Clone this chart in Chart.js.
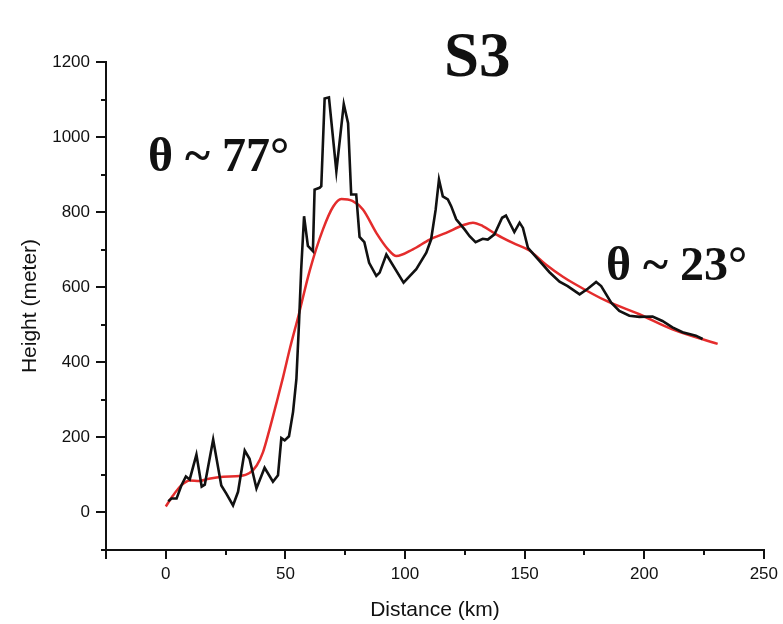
<!DOCTYPE html>
<html>
<head>
    <title>S3 profile</title>
    <script src="https://cdn.jsdelivr.net/npm/chart.js"></script>
    <style>
        body { margin: 0; background: #fff; }
    </style>
</head>
<body>
    <canvas id="profileChart" width="783" height="624"></canvas>

    <script>
        // measured profile (black)
        const profileDist = [1, 2.4, 4.5, 6.5, 8.4, 10, 12.8, 15, 16.3, 19.8, 23.2, 25.3, 28.1, 30.2, 33, 35, 37.9, 41.3, 44.8, 46.9,
            48.3, 49.7, 51.5, 53.2, 54.6, 55.7, 56.6, 57.8, 59.4, 61.5, 62.2, 64.3, 65, 66.4, 68.2, 71.3, 74.4, 76.2, 77.5, 79.6,
            81, 83, 85, 88, 89.4, 92.2, 99.4, 104.7, 108.9, 110.9, 112.8, 114.2, 115.8, 117.9, 119.3, 121.4, 124.9, 127, 129.5, 132.5,
            134.6, 137.4, 140.6, 142.2, 145.7, 147.9, 149.3, 151.4, 156.2, 160.4, 164.6, 168, 173, 176.4, 179.9, 182, 186.2, 189.6, 193.8, 198,
            203.5, 207.6, 211.8, 216, 221.6, 224.4];
        const profileHeight = [30, 37, 37, 72, 96, 88, 154, 69, 74, 194, 72, 50, 19, 55, 165, 143, 64, 119, 82, 99,
            198, 192, 203, 268, 356, 506, 648, 789, 710, 696, 860, 865, 869, 1103, 1106, 909, 1088, 1037, 847, 847,
            734, 720, 665, 630, 639, 687, 612, 648, 692, 727, 806, 887, 842, 834, 816, 781, 754, 736, 720, 729,
            727, 741, 785, 791, 747, 772, 758, 705, 670, 640, 615, 603, 581, 596, 614, 603, 559, 537, 524, 521,
            522, 510, 493, 480, 471, 462];

        // smoothed profile (red)
        const smoothDist = [0, 3, 6.5, 10, 14, 18, 24, 31, 35, 38, 40.6, 43.4, 46.2, 49, 52, 55.3, 60.2, 65.7, 70, 73.4, 78,
            82.4, 88, 92.9, 96.4, 103.3, 110.3, 117.2, 124.2, 128.4, 132.5, 138.1, 145.1, 152, 159, 166, 170.1, 184, 198, 211.8, 230.7];
        const smoothHeight = [16, 45, 72, 85, 84, 90, 95, 97, 105, 125, 160, 222, 290, 360, 440, 520, 645, 754, 815, 835, 830,
            807, 745, 701, 683, 701, 727, 745, 765, 772, 763, 741, 718, 698, 660, 628, 612, 564, 528, 488, 449];

        const xMin = -25, xMax = 250;
        const yMin = -100, yMax = 1200;

        const toPoints = (xs, ys) => xs.map((x, i) => ({ x: x, y: ys[i] }));

        const textPlugin = {
            id: 'labels',
            afterDraw(chart) {
                const ctx = chart.ctx;
                ctx.save();
                ctx.fillStyle = '#111';
                ctx.textAlign = 'left';
                ctx.textBaseline = 'alphabetic';
                ctx.font = 'bold 63px "Liberation Serif"';
                ctx.fillText('S3', 444, 76);
                ctx.font = 'bold 48px "Liberation Serif"';
                ctx.fillText('θ ~ 77°', 148, 171);
                ctx.fillText('θ ~ 23°', 606, 280);
                ctx.restore();
            }
        };

        const axisColor = '#111';
        const tickFont = { family: 'Liberation Sans', size: 17 };

        const ctx = document.getElementById('profileChart').getContext('2d');
        new Chart(ctx, {
            type: 'line',
            data: {
                datasets: [{
                    data: toPoints(profileDist, profileHeight),
                    borderColor: '#111',
                    borderWidth: 2.6,
                    pointRadius: 0,
                    tension: 0,
                    fill: false
                }, {
                    data: toPoints(smoothDist, smoothHeight),
                    borderColor: 'rgb(228, 44, 44)',
                    borderWidth: 2.5,
                    pointRadius: 0,
                    tension: 0.4,
                    cubicInterpolationMode: 'monotone',
                    fill: false
                }]
            },
            options: {
                responsive: false,
                animation: false,
                layout: { padding: { left: 0, top: 62, right: 19, bottom: 0 } },
                plugins: {
                    legend: { display: false },
                    tooltip: { enabled: false }
                },
                scales: {
                    x: {
                        type: 'linear',
                        position: 'bottom',
                        weight: 1,
                        min: xMin,
                        max: xMax,
                        afterFit: s => { s.height = 74; },
                        ticks: {
                            stepSize: 50,
                            color: axisColor,
                            font: tickFont,
                            padding: 5,
                            autoSkip: false,
                            maxRotation: 0,
                            callback: v => (v >= 0 ? v : '')
                        },
                        afterBuildTicks: s => { s.ticks = s.ticks.filter(t => t.value % 50 === 0 || t.value === xMin); },
                        grid: { drawOnChartArea: false, drawTicks: true, tickLength: 9, color: axisColor, lineWidth: 2 },
                        border: { display: true, color: axisColor, width: 2 },
                        title: {
                            display: true,
                            text: 'Distance (km)',
                            color: axisColor,
                            font: { family: 'Liberation Sans', size: 21 },
                            padding: { top: 0, bottom: 1 }
                        }
                    },
                    xMinor: {
                        type: 'linear',
                        position: 'bottom',
                        weight: -1,
                        min: xMin,
                        max: xMax,
                        afterFit: s => { s.height = 0; },
                        ticks: { display: false, stepSize: 25, autoSkip: false },
                        grid: { drawOnChartArea: false, drawTicks: true, tickLength: 5, color: axisColor, lineWidth: 2 },
                        border: { display: false }
                    },
                    y: {
                        type: 'linear',
                        position: 'left',
                        weight: 1,
                        min: yMin,
                        max: yMax,
                        afterFit: s => { s.width = 106; },
                        ticks: {
                            stepSize: 200,
                            color: axisColor,
                            font: tickFont,
                            padding: 6,
                            autoSkip: false,
                            callback: v => (v >= 0 ? v : '')
                        },
                        afterBuildTicks: s => { s.ticks = s.ticks.filter(t => t.value >= 0 && t.value % 200 === 0); },
                        grid: { drawOnChartArea: false, drawTicks: true, tickLength: 10, color: axisColor, lineWidth: 2 },
                        border: { display: true, color: axisColor, width: 2 },
                        title: {
                            display: true,
                            text: 'Height (meter)',
                            color: axisColor,
                            font: { family: 'Liberation Sans', size: 21 },
                            padding: { top: 18, bottom: 0 }
                        }
                    },
                    yMinor: {
                        type: 'linear',
                        position: 'left',
                        weight: -1,
                        min: yMin,
                        max: yMax,
                        afterFit: s => { s.width = 0; },
                        ticks: { display: false, stepSize: 100, autoSkip: false },
                        grid: { drawOnChartArea: false, drawTicks: true, tickLength: 5, color: axisColor, lineWidth: 2 },
                        border: { display: false }
                    }
                }
            },
            plugins: [textPlugin]
        });
    </script>
</body>
</html>
